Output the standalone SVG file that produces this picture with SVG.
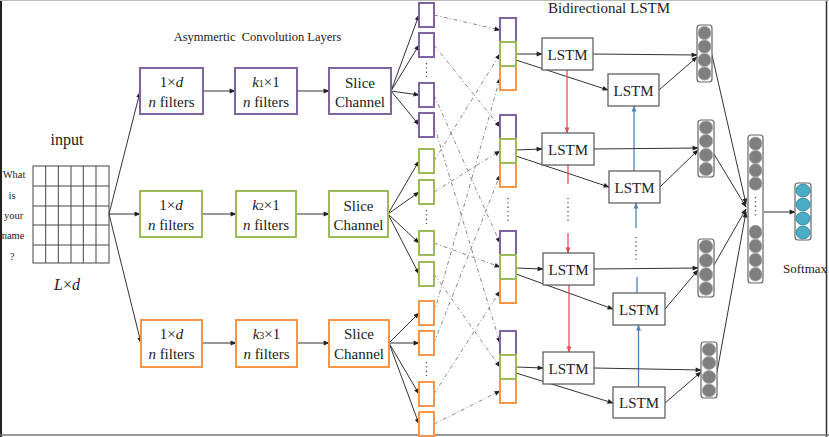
<svg xmlns="http://www.w3.org/2000/svg" width="829" height="437" viewBox="0 0 829 437" font-family="'Liberation Serif', 'Times New Roman', serif">
<style>
text{font-family:'Liberation Serif','Times New Roman',serif;fill:#222}
.t15{font-size:15px}
.it{font-style:italic}
.pb{fill:#fff;stroke:#8064a2;stroke-width:2}
.gb{fill:#fff;stroke:#9bbb59;stroke-width:2}
.ob{fill:#fff;stroke:#f79646;stroke-width:2}
.lstm{fill:#fff;stroke:#555;stroke-width:1.2}
.col{fill:#fff;stroke:#666;stroke-width:1.2}
.gc{fill:#7f7f7f;stroke:#a6a6a6;stroke-width:0.8}
.sc{fill:#4bacc6;stroke:#2c7f99;stroke-width:0.8}
.ar{stroke:#333;stroke-width:1;fill:none;marker-end:url(#ah)}
.da{stroke:#888;stroke-width:1;fill:none;stroke-dasharray:4 2.5 1 2.5;marker-end:url(#ah)}
.red{stroke:#e0505a;stroke-width:1.3;fill:none}
.blue{stroke:#4f81bd;stroke-width:1.3;fill:none}
.dots{stroke:#555;stroke-width:1.3;stroke-dasharray:1.3 3;fill:none}
.grid{stroke:#444;stroke-width:1;fill:none}
</style>
<defs>
<marker id="ah" viewBox="0 0 10 10" refX="9" refY="5" markerWidth="7" markerHeight="6" orient="auto" markerUnits="userSpaceOnUse"><path d="M0,1 L10,5 L0,9 z" fill="#222"/></marker>
<marker id="ahr" viewBox="0 0 10 10" refX="9" refY="5" markerWidth="7" markerHeight="6" orient="auto" markerUnits="userSpaceOnUse"><path d="M0,1 L10,5 L0,9 z" fill="#e0505a"/></marker>
<marker id="ahb" viewBox="0 0 10 10" refX="9" refY="5" markerWidth="7" markerHeight="6" orient="auto" markerUnits="userSpaceOnUse"><path d="M0,1 L10,5 L0,9 z" fill="#4f81bd"/></marker>
</defs>
<rect x="0" y="0" width="829" height="437" fill="#fff"/>
<line x1="1" y1="0" x2="1" y2="437" stroke="#222" stroke-width="2"/>
<line x1="826.5" y1="0" x2="826.5" y2="437" stroke="#333" stroke-width="1.5"/>
<line x1="0" y1="435" x2="829" y2="435" stroke="#777" stroke-width="1.5"/>
<line x1="0" y1="0.5" x2="829" y2="0.5" stroke="#bbb" stroke-width="1"/>

<text x="257.5" y="41" font-size="12.5" text-anchor="middle" xml:space="preserve">Asymmertic  Convolution Layers</text>
<text x="609" y="13" class="t15" text-anchor="middle">Bidirectional LSTM</text>
<text x="783" y="273" font-size="13">Softmax</text>

<g id="connectors">
  <line class="ar" x1="109" y1="214" x2="140" y2="92"/>
  <line class="ar" x1="109" y1="214" x2="140" y2="214"/>
  <line class="ar" x1="109" y1="214" x2="141" y2="343"/>
  <line class="ar" x1="203" y1="91" x2="235" y2="91"/>
  <line class="ar" x1="297" y1="91" x2="329" y2="91"/>
  <line class="ar" x1="202" y1="214" x2="236" y2="214"/>
  <line class="ar" x1="296" y1="214" x2="329" y2="214"/>
  <line class="ar" x1="202" y1="343" x2="236" y2="343"/>
  <line class="ar" x1="297" y1="343" x2="329" y2="343"/>
  <line class="ar" x1="391" y1="91" x2="419" y2="15"/>
  <line class="ar" x1="391" y1="91" x2="419" y2="45"/>
  <line class="ar" x1="391" y1="91" x2="419" y2="95"/>
  <line class="ar" x1="391" y1="91" x2="419" y2="125"/>
  <line class="ar" x1="388" y1="214" x2="419" y2="161"/>
  <line class="ar" x1="388" y1="214" x2="419" y2="192"/>
  <line class="ar" x1="388" y1="214" x2="419" y2="243"/>
  <line class="ar" x1="388" y1="214" x2="419" y2="274"/>
  <line class="ar" x1="389" y1="343" x2="419" y2="313"/>
  <line class="ar" x1="389" y1="343" x2="419" y2="343"/>
  <line class="ar" x1="389" y1="343" x2="419" y2="394"/>
  <line class="ar" x1="389" y1="343" x2="419" y2="424"/>
  <line class="da" x1="434" y1="15" x2="500" y2="30"/>
  <line class="da" x1="434" y1="45" x2="500" y2="127"/>
  <line class="da" x1="434" y1="95" x2="500" y2="243"/>
  <line class="da" x1="434" y1="125" x2="500" y2="343"/>
  <line class="da" x1="434" y1="161" x2="500" y2="54"/>
  <line class="da" x1="434" y1="192" x2="500" y2="151"/>
  <line class="da" x1="434" y1="243" x2="500" y2="267"/>
  <line class="da" x1="434" y1="274" x2="500" y2="367"/>
  <line class="da" x1="434" y1="313" x2="500" y2="78"/>
  <line class="da" x1="434" y1="343" x2="500" y2="175"/>
  <line class="da" x1="434" y1="394" x2="500" y2="291"/>
  <line class="da" x1="434" y1="424" x2="500" y2="391"/>
  <line class="ar" x1="516" y1="54" x2="542" y2="54"/>
  <line class="ar" x1="516" y1="60" x2="608" y2="90"/>
  <line class="ar" x1="516" y1="150" x2="542" y2="149"/>
  <line class="ar" x1="516" y1="156" x2="609" y2="187"/>
  <line class="ar" x1="516" y1="268" x2="543" y2="269"/>
  <line class="ar" x1="516" y1="274" x2="613" y2="309"/>
  <line class="ar" x1="516" y1="367" x2="543" y2="368"/>
  <line class="ar" x1="516" y1="373" x2="613" y2="403"/>
  <line class="red" x1="567" y1="70" x2="567" y2="133" marker-end="url(#ahr)"/>
  <line class="red" x1="568" y1="165" x2="568" y2="184"/>
  <line class="dots" x1="568" y1="198" x2="568" y2="222"/>
  <line class="red" x1="568" y1="233" x2="568" y2="253" marker-end="url(#ahr)"/>
  <line class="red" x1="569" y1="285" x2="569" y2="352" marker-end="url(#ahr)"/>
  <line class="blue" x1="634" y1="171" x2="634" y2="106" marker-end="url(#ahb)"/>
  <line class="blue" x1="636" y1="228" x2="636" y2="203" marker-end="url(#ahb)"/>
  <line class="dots" x1="636" y1="237" x2="636" y2="263"/>
  <line class="blue" x1="637" y1="277" x2="637" y2="293"/>
  <line class="blue" x1="638.5" y1="387" x2="638.5" y2="325" marker-end="url(#ahb)"/>
  <line class="ar" x1="593" y1="54" x2="697" y2="55"/>
  <line class="ar" x1="659" y1="90" x2="697" y2="57"/>
  <line class="ar" x1="594" y1="149" x2="698" y2="148"/>
  <line class="ar" x1="660" y1="187" x2="698" y2="150"/>
  <line class="ar" x1="594" y1="269" x2="698" y2="268"/>
  <line class="ar" x1="665" y1="309" x2="698" y2="270"/>
  <line class="ar" x1="594" y1="368" x2="701" y2="370"/>
  <line class="ar" x1="665" y1="403" x2="701" y2="372"/>
  <line class="ar" x1="712" y1="55" x2="746" y2="204"/>
  <line class="ar" x1="714" y1="154" x2="746" y2="207"/>
  <line class="ar" x1="714" y1="265" x2="746" y2="209"/>
  <line class="ar" x1="717" y1="372" x2="746" y2="212"/>
  <line class="ar" x1="764" y1="212" x2="795" y2="212"/>
</g>

<g id="input">
  <text x="67" y="145" font-size="16" text-anchor="middle">input</text>
  <rect class="grid" x="33" y="166" width="76" height="97" stroke-width="1.3"/>
  <path class="grid" d="M45.7,166V263M58.3,166V263M71,166V263M83.3,166V263M96,166V263M33,186H109M33,206H109M33,225H109M33,245H109"/>
  <g font-size="10.5" text-anchor="middle">
    <text x="14" y="178">What</text>
    <text x="12" y="199">is</text>
    <text x="13.5" y="219">your</text>
    <text x="13" y="239">name</text>
    <text x="12" y="260">?</text>
  </g>
  <text x="67" y="290" font-size="16" class="it" text-anchor="middle">L<tspan font-style="normal">×</tspan>d</text>
</g>

<g id="conv-1xd-1">
  <rect class="pb" x="140" y="68" width="63" height="46"/>
  <text x="171.5" y="87" class="t15" text-anchor="middle">1×<tspan class="it">d</tspan></text>
  <text x="171.5" y="107" class="t15" text-anchor="middle"><tspan class="it">n</tspan> filters</text>
</g>
<g id="conv-k1">
  <rect class="pb" x="235" y="68" width="62" height="46"/>
  <text x="266" y="87" class="t15" text-anchor="middle"><tspan class="it">k</tspan><tspan font-size="10">1</tspan>×1</text>
  <text x="266" y="107" class="t15" text-anchor="middle"><tspan class="it">n</tspan> filters</text>
</g>
<g id="slice-1">
  <rect class="pb" x="329" y="68" width="62" height="46"/>
  <text x="360" y="88" class="t15" text-anchor="middle">Slice</text>
  <text x="360" y="107" class="t15" text-anchor="middle">Channel</text>
</g>

<g id="conv-1xd-2">
  <rect class="gb" x="140" y="191" width="62" height="46"/>
  <text x="171" y="210" class="t15" text-anchor="middle">1×<tspan class="it">d</tspan></text>
  <text x="171" y="230" class="t15" text-anchor="middle"><tspan class="it">n</tspan> filters</text>
</g>
<g id="conv-k2">
  <rect class="gb" x="236" y="191" width="60" height="46"/>
  <text x="266" y="210" class="t15" text-anchor="middle"><tspan class="it">k</tspan><tspan font-size="10">2</tspan>×1</text>
  <text x="266" y="230" class="t15" text-anchor="middle"><tspan class="it">n</tspan> filters</text>
</g>
<g id="slice-2">
  <rect class="gb" x="329" y="191" width="59" height="46"/>
  <text x="358.5" y="211" class="t15" text-anchor="middle">Slice</text>
  <text x="358.5" y="230" class="t15" text-anchor="middle">Channel</text>
</g>

<g id="conv-1xd-3">
  <rect class="ob" x="141" y="320" width="61" height="47"/>
  <text x="171.5" y="339" class="t15" text-anchor="middle">1×<tspan class="it">d</tspan></text>
  <text x="171.5" y="359" class="t15" text-anchor="middle"><tspan class="it">n</tspan> filters</text>
</g>
<g id="conv-k3">
  <rect class="ob" x="236" y="320" width="61" height="47"/>
  <text x="266.5" y="339" class="t15" text-anchor="middle"><tspan class="it">k</tspan><tspan font-size="10">3</tspan>×1</text>
  <text x="266.5" y="359" class="t15" text-anchor="middle"><tspan class="it">n</tspan> filters</text>
</g>
<g id="slice-3">
  <rect class="ob" x="329" y="320" width="60" height="47"/>
  <text x="359" y="339" class="t15" text-anchor="middle">Slice</text>
  <text x="359" y="359" class="t15" text-anchor="middle">Channel</text>
</g>

<g id="slices-purple">
  <rect class="pb" x="419" y="3" width="15" height="24"/>
  <rect class="pb" x="419" y="33" width="15" height="24"/>
  <line class="dots" x1="426.5" y1="63" x2="426.5" y2="77"/>
  <rect class="pb" x="419" y="83" width="15" height="24"/>
  <rect class="pb" x="419" y="113" width="15" height="24"/>
</g>
<g id="slices-green">
  <rect class="gb" x="419" y="149" width="15" height="24"/>
  <rect class="gb" x="419" y="180" width="15" height="24"/>
  <line class="dots" x1="426.5" y1="210" x2="426.5" y2="224"/>
  <rect class="gb" x="419" y="231" width="15" height="24"/>
  <rect class="gb" x="419" y="262" width="15" height="24"/>
</g>
<g id="slices-orange">
  <rect class="ob" x="419" y="301" width="15" height="24"/>
  <rect class="ob" x="419" y="331" width="15" height="24"/>
  <line class="dots" x1="426.5" y1="362" x2="426.5" y2="376"/>
  <rect class="ob" x="419" y="382" width="15" height="24"/>
  <rect class="ob" x="419" y="412" width="15" height="24"/>
</g>

<g id="stack-1">
  <rect class="pb" x="500" y="18" width="16" height="24"/>
  <rect class="ob" x="500" y="66" width="16" height="24"/>
  <rect class="gb" x="500" y="42" width="16" height="24"/>
</g>
<g id="stack-2">
  <rect class="pb" x="500" y="115" width="16" height="24"/>
  <rect class="ob" x="500" y="163" width="16" height="24"/>
  <rect class="gb" x="500" y="139" width="16" height="24"/>
</g>
<line class="dots" x1="508" y1="198" x2="508" y2="221"/>
<g id="stack-3">
  <rect class="pb" x="500" y="231" width="16" height="24"/>
  <rect class="ob" x="500" y="279" width="16" height="24"/>
  <rect class="gb" x="500" y="255" width="16" height="24"/>
</g>
<g id="stack-4">
  <rect class="pb" x="500" y="331" width="16" height="24"/>
  <rect class="ob" x="500" y="379" width="16" height="24"/>
  <rect class="gb" x="500" y="355" width="16" height="24"/>
</g>

<g id="lstm-f1"><rect class="lstm" x="542" y="38" width="51" height="32"/><text x="567.5" y="60" class="t15" text-anchor="middle">LSTM</text></g>
<g id="lstm-b1"><rect class="lstm" x="608" y="74" width="51" height="32"/><text x="633.5" y="96" class="t15" text-anchor="middle">LSTM</text></g>
<g id="lstm-f2"><rect class="lstm" x="542" y="133" width="52" height="32"/><text x="568" y="155" class="t15" text-anchor="middle">LSTM</text></g>
<g id="lstm-b2"><rect class="lstm" x="609" y="171" width="51" height="32"/><text x="634.5" y="193" class="t15" text-anchor="middle">LSTM</text></g>
<g id="lstm-f3"><rect class="lstm" x="543" y="253" width="51" height="32"/><text x="568.5" y="275" class="t15" text-anchor="middle">LSTM</text></g>
<g id="lstm-b3"><rect class="lstm" x="613" y="293" width="52" height="32"/><text x="639" y="315" class="t15" text-anchor="middle">LSTM</text></g>
<g id="lstm-f4"><rect class="lstm" x="543" y="352" width="51" height="32"/><text x="568.5" y="374" class="t15" text-anchor="middle">LSTM</text></g>
<g id="lstm-b4"><rect class="lstm" x="613" y="387" width="52" height="31"/><text x="639" y="408" class="t15" text-anchor="middle">LSTM</text></g>

<g id="out-1">
  <rect class="col" x="697" y="25" width="15" height="57" rx="3"/>
  <ellipse class="gc" cx="704.5" cy="33" rx="6.5" ry="6.6"/>
  <ellipse class="gc" cx="704.5" cy="46.5" rx="6.5" ry="6.6"/>
  <ellipse class="gc" cx="704.5" cy="60" rx="6.5" ry="6.6"/>
  <ellipse class="gc" cx="704.5" cy="73.5" rx="6.5" ry="6.6"/>
</g>
<g id="out-2">
  <rect class="col" x="698" y="120" width="16" height="57" rx="3"/>
  <ellipse class="gc" cx="706" cy="127.5" rx="6.7" ry="6.6"/>
  <ellipse class="gc" cx="706" cy="141" rx="6.7" ry="6.6"/>
  <ellipse class="gc" cx="706" cy="155" rx="6.7" ry="6.6"/>
  <ellipse class="gc" cx="706" cy="169" rx="6.7" ry="6.6"/>
</g>
<g id="out-3">
  <rect class="col" x="698" y="239" width="16" height="58" rx="3"/>
  <ellipse class="gc" cx="706" cy="246.5" rx="6.7" ry="6.7"/>
  <ellipse class="gc" cx="706" cy="260.5" rx="6.7" ry="6.7"/>
  <ellipse class="gc" cx="706" cy="274.5" rx="6.7" ry="6.7"/>
  <ellipse class="gc" cx="706" cy="288.5" rx="6.7" ry="6.7"/>
</g>
<g id="out-4">
  <rect class="col" x="701" y="342" width="16" height="56" rx="3"/>
  <ellipse class="gc" cx="709" cy="349.5" rx="6.7" ry="6.5"/>
  <ellipse class="gc" cx="709" cy="363" rx="6.7" ry="6.5"/>
  <ellipse class="gc" cx="709" cy="377" rx="6.7" ry="6.5"/>
  <ellipse class="gc" cx="709" cy="390.5" rx="6.7" ry="6.5"/>
</g>
<g id="concat">
  <rect class="col" x="748" y="135" width="15" height="148" rx="3"/>
  <ellipse class="gc" cx="755.5" cy="143.6" rx="6.5" ry="6.6"/>
  <ellipse class="gc" cx="755.5" cy="157" rx="6.5" ry="6.6"/>
  <ellipse class="gc" cx="755.5" cy="170.3" rx="6.5" ry="6.6"/>
  <ellipse class="gc" cx="755.5" cy="183.6" rx="6.5" ry="6.6"/>
  <line class="dots" x1="755.5" y1="197" x2="755.5" y2="218"/>
  <ellipse class="gc" cx="755.5" cy="232" rx="6.5" ry="6.8"/>
  <ellipse class="gc" cx="755.5" cy="246" rx="6.5" ry="6.8"/>
  <ellipse class="gc" cx="755.5" cy="260" rx="6.5" ry="6.8"/>
  <ellipse class="gc" cx="755.5" cy="274.3" rx="6.5" ry="6.8"/>
</g>
<g id="softmax">
  <rect class="col" x="795" y="183" width="16" height="57" rx="3"/>
  <ellipse class="sc" cx="803" cy="190.5" rx="7" ry="6.4"/>
  <ellipse class="sc" cx="803" cy="204.5" rx="7" ry="6.4"/>
  <ellipse class="sc" cx="803" cy="218.5" rx="7" ry="6.4"/>
  <ellipse class="sc" cx="803" cy="232.5" rx="7" ry="6.4"/>
</g>
</svg>
